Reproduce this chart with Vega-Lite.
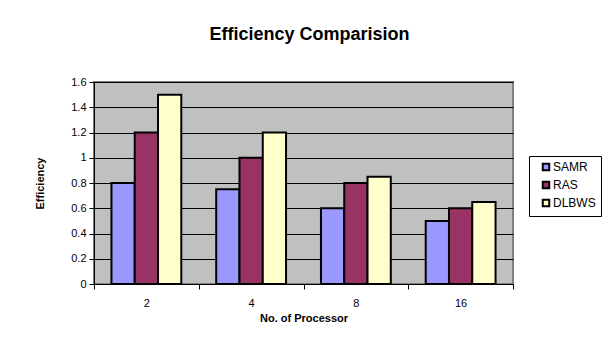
{
  "$schema": "https://vega.github.io/schema/vega-lite/v6.json",
  "autosize": "none",
  "width": 419,
  "height": 202,
  "padding": {"left": 94, "top": 82, "right": 90, "bottom": 65},
  "background": "white",
  "title": {
    "text": "Efficiency Comparision",
    "font": "Liberation Sans",
    "fontSize": 18,
    "fontWeight": "bold",
    "color": "black",
    "anchor": "middle",
    "dx": 6,
    "offset": 32
  },
  "data": {
    "values": [
      {"processor": "2", "method": "SAMR", "efficiency": 0.8},
      {"processor": "2", "method": "RAS", "efficiency": 1.2},
      {"processor": "2", "method": "DLBWS", "efficiency": 1.5},
      {"processor": "4", "method": "SAMR", "efficiency": 0.75},
      {"processor": "4", "method": "RAS", "efficiency": 1.0},
      {"processor": "4", "method": "DLBWS", "efficiency": 1.2},
      {"processor": "8", "method": "SAMR", "efficiency": 0.6},
      {"processor": "8", "method": "RAS", "efficiency": 0.8},
      {"processor": "8", "method": "DLBWS", "efficiency": 0.85},
      {"processor": "16", "method": "SAMR", "efficiency": 0.5},
      {"processor": "16", "method": "RAS", "efficiency": 0.6},
      {"processor": "16", "method": "DLBWS", "efficiency": 0.65}
    ]
  },
  "mark": {"type": "bar", "stroke": "black", "strokeWidth": 2},
  "encoding": {
    "x": {
      "field": "processor",
      "type": "nominal",
      "sort": ["2", "4", "8", "16"],
      "scale": {"paddingInner": 0, "paddingOuter": 0},
      "axis": {
        "title": "No. of Processor",
        "titleFont": "Liberation Sans",
        "titleFontSize": 11,
        "titleFontWeight": "bold",
        "titleColor": "black",
        "titlePadding": 4,
        "labelFont": "Liberation Sans",
        "labelFontSize": 11,
        "labelColor": "black",
        "labelAngle": 0,
        "labelPadding": 8,
        "tickBand": "extent",
        "tickColor": "black",
        "tickSize": 5,
        "domainColor": "black",
        "domainWidth": 1,
        "grid": false
      }
    },
    "xOffset": {
      "field": "method",
      "type": "nominal",
      "sort": ["SAMR", "RAS", "DLBWS"],
      "scale": {"paddingInner": 0, "paddingOuter": 0.75}
    },
    "y": {
      "field": "efficiency",
      "type": "quantitative",
      "scale": {"domain": [0, 1.6], "nice": false},
      "axis": {
        "title": "Efficiency",
        "titleFont": "Liberation Sans",
        "titleFontSize": 11,
        "titleFontWeight": "bold",
        "titleColor": "black",
        "titlePadding": 25,
        "labelFont": "Liberation Sans",
        "labelFontSize": 11,
        "labelColor": "black",
        "labelPadding": 3,
        "values": [0, 0.2, 0.4, 0.6, 0.8, 1, 1.2, 1.4, 1.6],
        "format": "~g",
        "tickColor": "black",
        "tickSize": 5,
        "domainColor": "black",
        "domainWidth": 1,
        "grid": true,
        "gridColor": "black",
        "gridWidth": 1,
        "gridOpacity": 1
      }
    },
    "color": {
      "field": "method",
      "type": "nominal",
      "sort": ["SAMR", "RAS", "DLBWS"],
      "scale": {"domain": ["SAMR", "RAS", "DLBWS"], "range": ["#9999FF", "#993366", "#FFFFCC"]},
      "legend": {
        "title": null,
        "orient": "none",
        "legendX": 435,
        "legendY": 74,
        "fillColor": "white",
        "strokeColor": "black",
        "padding": 5,
        "symbolType": "square",
        "symbolSize": 42,
        "symbolOffset": 6,
        "symbolStrokeColor": "black",
        "symbolStrokeWidth": 2,
        "labelFont": "Liberation Sans",
        "labelFontSize": 12,
        "labelColor": "black",
        "labelOffset": 1,
        "rowPadding": 2,
        "labelLimit": 200
      }
    }
  },
  "config": {
    "view": {"fill": "#C0C0C0", "stroke": "#808080", "strokeWidth": 2}
  }
}
